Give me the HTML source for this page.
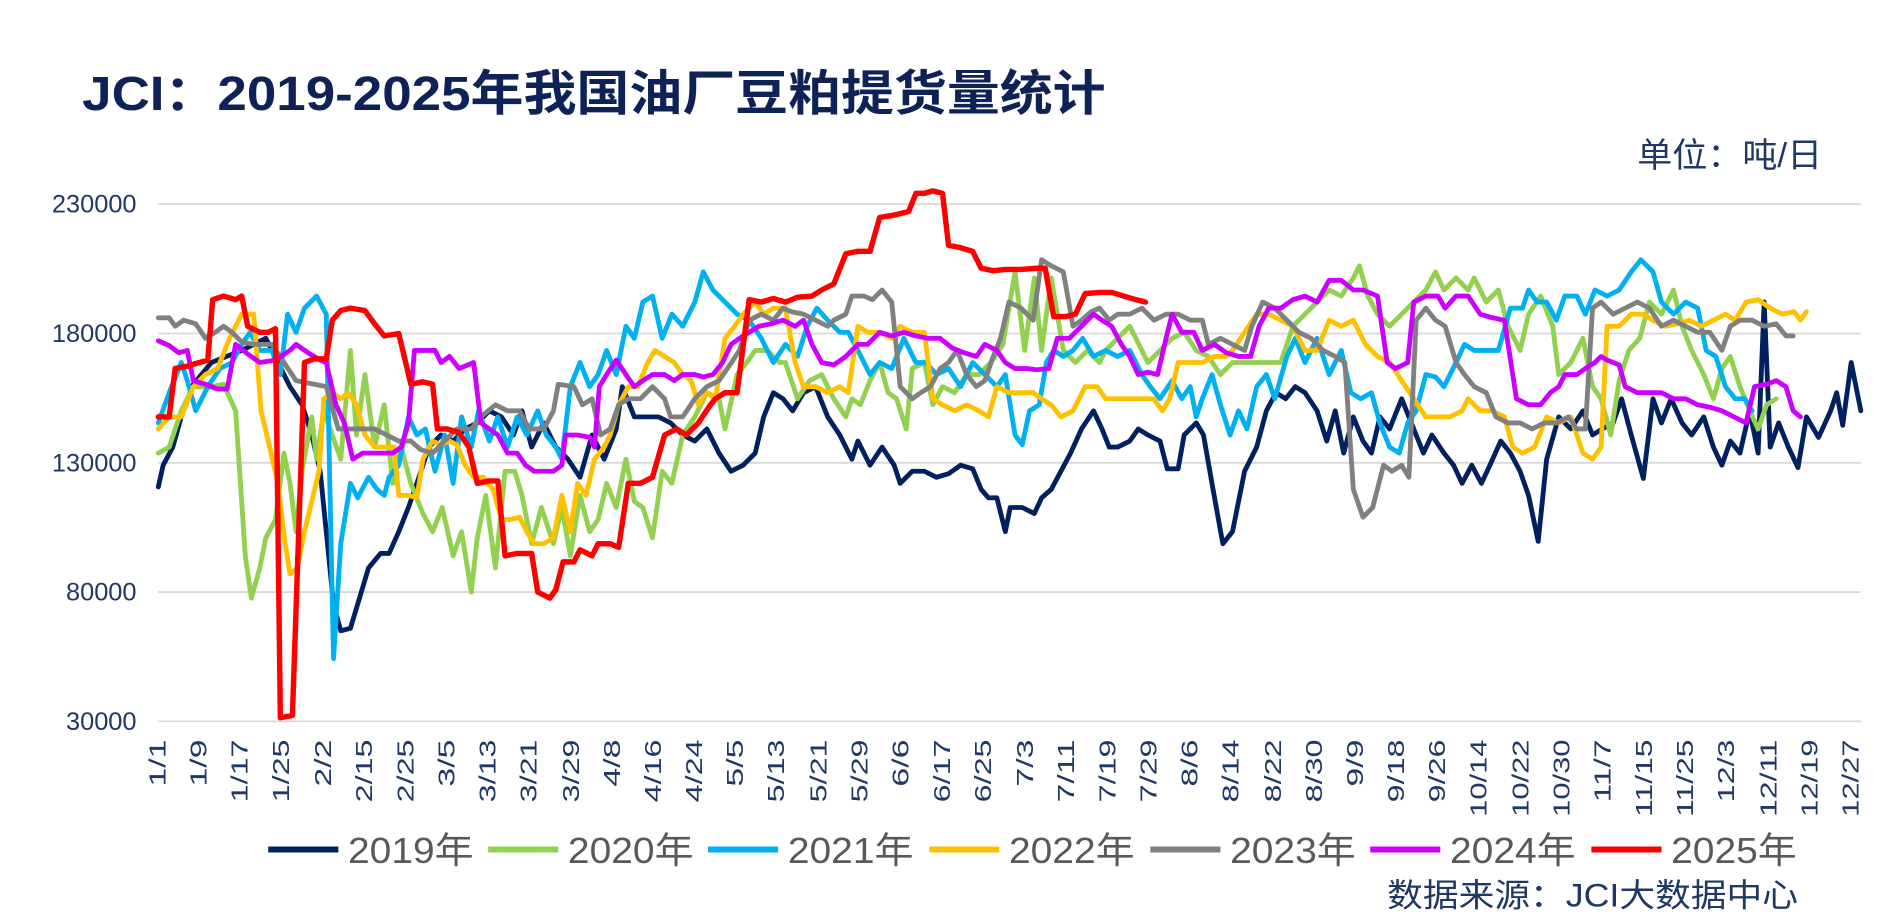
<!DOCTYPE html>
<html><head><meta charset="utf-8"><style>
html,body{margin:0;padding:0;background:#fff;}
svg{display:block;}
</style></head><body>
<svg width="1885" height="921" viewBox="0 0 1560 762.2" xmlns="http://www.w3.org/2000/svg" font-family="'Liberation Sans','Noto Sans CJK SC',sans-serif">
<rect width="1560" height="762.2" fill="#fff"/>
<text x="68" y="91" font-size="40" font-weight="bold" fill="#0e2257" textLength="847" lengthAdjust="spacingAndGlyphs">JCI：2019-2025年我国油厂豆粕提货量统计</text>
<text x="1355" y="138" font-size="28" fill="#1f3864" textLength="153" lengthAdjust="spacingAndGlyphs">单位：吨/日</text>
<g stroke="#d9d9d9" stroke-width="1.5">
<line x1="131" y1="169" x2="1540" y2="169"/><line x1="131" y1="276" x2="1540" y2="276"/><line x1="131" y1="383" x2="1540" y2="383"/><line x1="131" y1="490" x2="1540" y2="490"/><line x1="131" y1="597" x2="1540" y2="597"/>
</g>
<g font-size="21" fill="#1f3864" text-anchor="end">
<text x="113" y="176">230000</text><text x="113" y="283">180000</text><text x="113" y="390">130000</text><text x="113" y="497">80000</text><text x="113" y="604">30000</text>
</g>
<g font-size="20" fill="#1f3864" id="xt"></g>
<g fill="none" stroke-width="4" stroke-linejoin="round" stroke-linecap="round">
<polyline stroke="#002060" points="131,403 135,385 143,370 150,345 160,318 175,300 200,290 220,280 230,300 240,320 250,335 258,360 265,390 270,440 276,500 282,522 290,520 296,500 305,470 315,458 322,458 330,440 338,420 345,400 355,370 365,360 375,365 385,355 395,350 405,340 415,345 425,360 432,340 440,370 450,350 460,370 470,380 480,395 490,360 500,380 510,355 515,320 525,345 535,345 545,345 555,350 565,360 575,365 585,355 595,375 605,390 615,385 625,375 632,345 640,325 648,330 656,340 665,325 675,320 685,345 695,360 705,380 710,365 720,385 730,370 740,385 745,400 755,390 765,390 775,395 785,392 795,385 805,388 812,405 818,412 825,412 832,440 836,420 846,420 856,425 862,412 870,405 878,390 886,375 895,355 905,340 912,355 918,370 925,370 935,365 942,355 950,360 960,365 966,388 975,388 980,360 990,350 996,360 1003,400 1012,450 1020,440 1030,390 1040,370 1048,340 1056,325 1064,330 1072,320 1080,325 1090,340 1098,365 1105,340 1112,375 1120,345 1128,365 1135,375 1142,345 1150,355 1160,330 1170,355 1178,375 1185,360 1195,375 1203,385 1210,400 1218,385 1226,400 1233,385 1242,365 1250,375 1258,390 1265,410 1273,448 1280,380 1290,345 1300,355 1310,340 1318,360 1326,355 1335,350 1342,330 1350,360 1360,396 1368,330 1375,350 1383,330 1392,350 1400,360 1410,345 1418,370 1425,385 1432,365 1440,375 1448,340 1455,375 1460,250 1465,370 1472,350 1480,370 1488,387 1495,345 1505,362 1515,340 1520,325 1525,352 1532,300 1540,340"/>
<polyline stroke="#92D050" points="131,375 140,370 150,340 160,320 175,320 185,318 195,340 203,460 208,495 215,470 220,445 228,430 235,375 240,400 245,440 250,390 258,345 262,380 268,340 275,360 282,380 290,290 295,360 302,310 310,370 318,335 325,400 332,370 340,400 350,425 358,440 366,420 375,460 382,440 390,490 395,445 402,410 410,470 418,390 426,390 432,410 440,450 448,420 458,450 465,420 472,460 480,410 488,440 495,430 502,400 510,420 518,380 525,415 532,420 540,445 548,390 556,400 565,360 575,345 585,325 595,330 600,355 610,310 618,300 625,290 635,290 645,300 650,300 660,330 670,315 680,310 690,330 700,345 705,330 712,335 720,315 728,300 735,325 742,330 750,355 755,305 765,300 772,335 780,320 790,325 800,310 810,310 820,300 830,285 840,225 848,290 856,230 862,290 870,230 880,290 890,300 900,290 910,300 915,290 925,280 935,270 945,290 950,300 960,290 970,280 980,275 990,290 1000,295 1010,310 1020,300 1030,300 1040,300 1050,300 1060,300 1070,270 1080,260 1090,250 1100,240 1110,245 1120,230 1125,220 1132,245 1140,260 1150,270 1160,260 1170,250 1180,240 1188,225 1195,240 1205,230 1215,240 1220,230 1230,250 1240,240 1248,270 1258,290 1265,260 1275,245 1285,270 1290,310 1300,300 1310,280 1318,320 1325,330 1333,360 1340,315 1348,290 1357,280 1365,250 1375,260 1385,240 1392,270 1400,290 1410,310 1418,330 1425,305 1432,295 1440,320 1448,340 1455,355 1462,335 1470,330"/>
<polyline stroke="#00B0F0" points="131,350 140,325 150,300 155,315 162,340 172,320 182,305 192,300 200,285 207,275 215,290 225,290 232,310 238,260 245,275 252,255 262,245 270,260 276,545 282,450 290,400 296,412 305,395 312,405 318,410 322,395 330,385 338,345 345,360 352,355 360,390 368,360 375,400 382,345 390,370 396,340 405,365 412,345 420,370 428,345 436,360 445,340 452,360 460,370 465,380 472,320 480,300 488,320 495,310 502,290 510,310 518,270 525,280 532,250 540,245 548,280 556,260 565,270 575,250 582,225 590,240 600,250 610,260 620,265 630,280 640,300 650,285 660,295 668,270 676,255 685,265 695,275 702,275 710,290 720,310 728,300 738,305 748,280 758,300 766,300 775,310 785,305 795,320 805,300 815,310 825,320 832,310 840,360 846,368 852,340 860,335 866,300 872,290 880,295 888,290 896,280 905,295 915,290 925,295 935,290 945,310 952,320 960,330 970,315 978,330 985,320 990,345 995,330 1003,310 1010,335 1018,360 1025,340 1032,355 1040,320 1048,310 1055,330 1065,295 1072,280 1080,300 1090,280 1100,310 1110,290 1118,325 1126,330 1135,325 1142,350 1150,370 1158,375 1165,350 1172,340 1180,310 1188,312 1195,320 1205,300 1212,285 1220,290 1230,290 1240,290 1250,255 1260,255 1265,240 1272,250 1280,250 1288,265 1295,245 1305,245 1312,260 1320,240 1330,245 1340,240 1350,225 1358,215 1368,225 1375,250 1385,260 1395,250 1405,255 1412,290 1420,295 1428,320 1436,330 1444,330 1450,340"/>
<polyline stroke="#FFC000" points="131,355 140,345 150,345 160,320 170,310 180,305 190,280 200,260 210,260 216,340 222,365 230,400 236,450 240,475 246,470 252,440 258,415 264,390 268,330 275,325 282,330 288,325 295,335 302,360 310,370 318,370 326,370 330,410 338,410 345,412 350,380 358,365 365,368 372,365 378,368 385,385 392,395 400,395 408,405 415,430 422,430 430,428 436,440 442,450 450,450 458,445 465,410 472,440 478,400 485,410 492,380 500,370 505,360 512,335 520,320 528,320 536,300 542,290 550,295 558,300 565,310 572,315 578,335 585,325 592,330 600,280 608,270 615,260 625,250 632,260 640,255 650,255 658,300 665,320 675,320 685,325 695,320 702,325 710,270 718,275 728,275 738,280 745,270 755,275 765,275 772,330 780,335 790,340 800,335 810,340 818,345 825,320 835,325 845,325 855,325 862,330 870,335 878,345 888,340 898,320 908,320 915,330 925,330 935,330 945,330 955,330 962,340 968,330 975,300 985,300 995,300 1005,295 1015,295 1020,290 1030,275 1040,260 1050,260 1060,265 1070,270 1080,290 1090,290 1100,265 1110,270 1120,265 1130,285 1140,295 1150,300 1160,315 1170,330 1180,345 1190,345 1200,345 1210,340 1215,330 1225,340 1235,340 1245,345 1252,370 1260,375 1270,370 1280,345 1290,350 1300,345 1310,375 1318,380 1325,370 1330,270 1340,270 1350,260 1360,260 1368,265 1378,270 1388,268 1398,265 1408,270 1418,265 1428,260 1436,265 1445,250 1455,248 1465,255 1475,260 1485,258 1490,265 1495,258"/>
<polyline stroke="#808080" points="131,263 140,263 145,270 152,265 162,268 170,280 178,275 185,270 192,275 200,283 210,285 225,285 235,300 245,315 260,318 270,320 280,355 295,355 310,355 320,360 330,365 340,365 348,372 358,375 368,365 378,355 390,355 398,345 410,335 420,340 430,340 438,355 450,355 458,340 462,318 475,320 482,335 490,330 497,360 505,355 512,335 520,330 530,330 540,320 550,330 555,345 565,345 575,330 585,320 595,315 602,305 612,290 620,265 630,260 640,265 648,255 655,258 665,260 675,265 685,270 690,265 700,260 705,245 715,245 722,248 730,240 738,250 745,320 755,330 762,325 770,320 778,305 785,300 792,290 800,310 808,320 815,315 822,295 828,280 835,250 845,255 855,265 862,215 870,220 880,225 888,270 895,265 903,258 910,255 918,265 925,260 935,260 945,255 955,265 965,260 975,260 985,265 995,265 1000,285 1010,280 1020,285 1030,290 1036,270 1045,250 1055,255 1065,265 1075,275 1085,280 1095,290 1105,295 1113,300 1120,405 1128,428 1136,420 1145,385 1152,390 1160,385 1166,395 1172,265 1180,255 1188,265 1196,270 1205,300 1212,310 1220,320 1230,325 1238,345 1248,350 1258,350 1268,355 1278,350 1288,350 1298,345 1305,355 1312,355 1318,255 1325,250 1335,260 1345,255 1355,250 1365,255 1375,270 1385,265 1395,270 1405,275 1415,275 1425,290 1432,270 1440,265 1450,265 1460,270 1470,268 1478,278 1484,278"/>
<polyline stroke="#CC00FF" points="131,282 140,286 148,292 155,290 160,315 170,318 180,322 188,322 195,285 205,293 215,300 228,298 240,290 245,285 255,292 265,298 270,300 278,335 285,350 292,380 300,375 315,375 325,375 332,370 338,350 343,290 350,290 360,290 365,300 372,295 380,305 392,300 398,350 405,355 412,360 420,375 428,375 435,385 442,390 450,390 458,390 465,385 468,360 478,360 488,362 492,370 496,320 502,310 510,298 518,310 525,320 532,315 540,310 550,310 558,315 565,310 575,310 582,312 590,310 598,300 605,285 612,280 620,275 628,270 638,268 648,265 658,270 665,265 672,285 680,300 690,302 700,295 710,285 718,285 728,275 738,278 748,275 758,278 768,280 778,280 788,288 798,292 808,295 815,285 825,290 832,300 840,305 850,305 858,306 868,305 875,280 885,280 895,270 905,260 912,265 920,270 928,285 935,295 942,310 950,308 958,310 965,280 970,260 978,275 988,275 995,290 1005,285 1015,292 1025,295 1035,295 1042,270 1050,255 1060,255 1070,248 1080,245 1090,250 1100,232 1110,232 1120,240 1128,240 1140,245 1148,300 1155,305 1165,300 1170,250 1180,245 1190,245 1196,255 1205,245 1215,245 1225,260 1235,263 1245,265 1255,330 1265,335 1275,335 1283,325 1290,320 1295,310 1305,310 1312,305 1320,300 1325,295 1330,298 1340,302 1345,320 1355,325 1365,325 1375,325 1385,330 1395,330 1405,335 1415,337 1425,340 1435,345 1445,350 1452,320 1462,318 1470,315 1478,320 1484,340 1490,345"/>
<polyline stroke="#FF0000" stroke-width="4.5" points="131,345 140,345 145,305 155,303 165,300 172,298 176,248 185,245 195,248 200,245 205,270 215,275 222,275 228,272 232,594 242,592 252,300 260,297 270,297 275,265 282,257 290,255 302,257 310,268 318,278 330,276 340,318 350,316 358,318 362,355 370,355 380,358 388,370 395,400 405,398 412,398 418,460 428,458 440,458 445,490 455,495 460,488 466,465 475,465 480,455 490,460 495,450 505,450 512,453 520,400 530,400 540,395 550,360 560,355 568,360 578,350 588,335 592,330 600,325 610,325 620,248 630,250 640,247 650,250 660,246 672,245 680,240 690,235 700,210 710,208 720,208 728,180 740,178 752,175 758,160 765,160 772,158 780,160 785,203 795,205 805,208 812,222 822,224 832,223 845,223 858,222 865,222 872,262 882,262 890,260 898,243 910,242 920,242 930,245 940,248 948,250"/>
</g>
<g stroke-width="5">
<line x1="222" y1="703" x2="280" y2="703" stroke="#002060"/>
<line x1="404" y1="703" x2="462" y2="703" stroke="#92D050"/>
<line x1="586" y1="703" x2="644" y2="703" stroke="#00B0F0"/>
<line x1="769" y1="703" x2="827" y2="703" stroke="#FFC000"/>
<line x1="952" y1="703" x2="1010" y2="703" stroke="#808080"/>
<line x1="1134" y1="703" x2="1192" y2="703" stroke="#CC00FF"/>
<line x1="1317" y1="703" x2="1375" y2="703" stroke="#FF0000"/>
</g>
<g font-size="30" fill="#595959">
<text x="288" y="714" textLength="104" lengthAdjust="spacingAndGlyphs">2019年</text>
<text x="470" y="714" textLength="104" lengthAdjust="spacingAndGlyphs">2020年</text>
<text x="652" y="714" textLength="104" lengthAdjust="spacingAndGlyphs">2021年</text>
<text x="835" y="714" textLength="104" lengthAdjust="spacingAndGlyphs">2022年</text>
<text x="1018" y="714" textLength="104" lengthAdjust="spacingAndGlyphs">2023年</text>
<text x="1200" y="714" textLength="104" lengthAdjust="spacingAndGlyphs">2024年</text>
<text x="1383" y="714" textLength="104" lengthAdjust="spacingAndGlyphs">2025年</text>
</g>
<text x="1148" y="750" font-size="27" fill="#1f3864" textLength="340" lengthAdjust="spacingAndGlyphs">数据来源：JCI大数据中心</text>
<g font-size="19" fill="#1f3864" text-anchor="end">
<text transform="translate(137,612) rotate(-90)" textLength="39" lengthAdjust="spacingAndGlyphs">1/1</text>
<text transform="translate(171,612) rotate(-90)" textLength="39" lengthAdjust="spacingAndGlyphs">1/9</text>
<text transform="translate(205,612) rotate(-90)" textLength="52" lengthAdjust="spacingAndGlyphs">1/17</text>
<text transform="translate(239,612) rotate(-90)" textLength="52" lengthAdjust="spacingAndGlyphs">1/25</text>
<text transform="translate(274,612) rotate(-90)" textLength="39" lengthAdjust="spacingAndGlyphs">2/2</text>
<text transform="translate(308,612) rotate(-90)" textLength="52" lengthAdjust="spacingAndGlyphs">2/15</text>
<text transform="translate(342,612) rotate(-90)" textLength="52" lengthAdjust="spacingAndGlyphs">2/25</text>
<text transform="translate(376,612) rotate(-90)" textLength="39" lengthAdjust="spacingAndGlyphs">3/5</text>
<text transform="translate(410,612) rotate(-90)" textLength="52" lengthAdjust="spacingAndGlyphs">3/13</text>
<text transform="translate(444,612) rotate(-90)" textLength="52" lengthAdjust="spacingAndGlyphs">3/21</text>
<text transform="translate(479,612) rotate(-90)" textLength="52" lengthAdjust="spacingAndGlyphs">3/29</text>
<text transform="translate(513,612) rotate(-90)" textLength="39" lengthAdjust="spacingAndGlyphs">4/8</text>
<text transform="translate(547,612) rotate(-90)" textLength="52" lengthAdjust="spacingAndGlyphs">4/16</text>
<text transform="translate(581,612) rotate(-90)" textLength="52" lengthAdjust="spacingAndGlyphs">4/24</text>
<text transform="translate(615,612) rotate(-90)" textLength="39" lengthAdjust="spacingAndGlyphs">5/5</text>
<text transform="translate(649,612) rotate(-90)" textLength="52" lengthAdjust="spacingAndGlyphs">5/13</text>
<text transform="translate(684,612) rotate(-90)" textLength="52" lengthAdjust="spacingAndGlyphs">5/21</text>
<text transform="translate(718,612) rotate(-90)" textLength="52" lengthAdjust="spacingAndGlyphs">5/29</text>
<text transform="translate(752,612) rotate(-90)" textLength="39" lengthAdjust="spacingAndGlyphs">6/6</text>
<text transform="translate(786,612) rotate(-90)" textLength="52" lengthAdjust="spacingAndGlyphs">6/17</text>
<text transform="translate(820,612) rotate(-90)" textLength="52" lengthAdjust="spacingAndGlyphs">6/25</text>
<text transform="translate(855,612) rotate(-90)" textLength="39" lengthAdjust="spacingAndGlyphs">7/3</text>
<text transform="translate(889,612) rotate(-90)" textLength="52" lengthAdjust="spacingAndGlyphs">7/11</text>
<text transform="translate(923,612) rotate(-90)" textLength="52" lengthAdjust="spacingAndGlyphs">7/19</text>
<text transform="translate(957,612) rotate(-90)" textLength="52" lengthAdjust="spacingAndGlyphs">7/29</text>
<text transform="translate(991,612) rotate(-90)" textLength="39" lengthAdjust="spacingAndGlyphs">8/6</text>
<text transform="translate(1025,612) rotate(-90)" textLength="52" lengthAdjust="spacingAndGlyphs">8/14</text>
<text transform="translate(1060,612) rotate(-90)" textLength="52" lengthAdjust="spacingAndGlyphs">8/22</text>
<text transform="translate(1094,612) rotate(-90)" textLength="52" lengthAdjust="spacingAndGlyphs">8/30</text>
<text transform="translate(1128,612) rotate(-90)" textLength="39" lengthAdjust="spacingAndGlyphs">9/9</text>
<text transform="translate(1162,612) rotate(-90)" textLength="52" lengthAdjust="spacingAndGlyphs">9/18</text>
<text transform="translate(1196,612) rotate(-90)" textLength="52" lengthAdjust="spacingAndGlyphs">9/26</text>
<text transform="translate(1230,612) rotate(-90)" textLength="64" lengthAdjust="spacingAndGlyphs">10/14</text>
<text transform="translate(1265,612) rotate(-90)" textLength="64" lengthAdjust="spacingAndGlyphs">10/22</text>
<text transform="translate(1299,612) rotate(-90)" textLength="64" lengthAdjust="spacingAndGlyphs">10/30</text>
<text transform="translate(1333,612) rotate(-90)" textLength="52" lengthAdjust="spacingAndGlyphs">11/7</text>
<text transform="translate(1367,612) rotate(-90)" textLength="64" lengthAdjust="spacingAndGlyphs">11/15</text>
<text transform="translate(1401,612) rotate(-90)" textLength="64" lengthAdjust="spacingAndGlyphs">11/25</text>
<text transform="translate(1435,612) rotate(-90)" textLength="52" lengthAdjust="spacingAndGlyphs">12/3</text>
<text transform="translate(1470,612) rotate(-90)" textLength="64" lengthAdjust="spacingAndGlyphs">12/11</text>
<text transform="translate(1504,612) rotate(-90)" textLength="64" lengthAdjust="spacingAndGlyphs">12/19</text>
<text transform="translate(1538,612) rotate(-90)" textLength="64" lengthAdjust="spacingAndGlyphs">12/27</text>
</g>
</svg>
</body></html>
